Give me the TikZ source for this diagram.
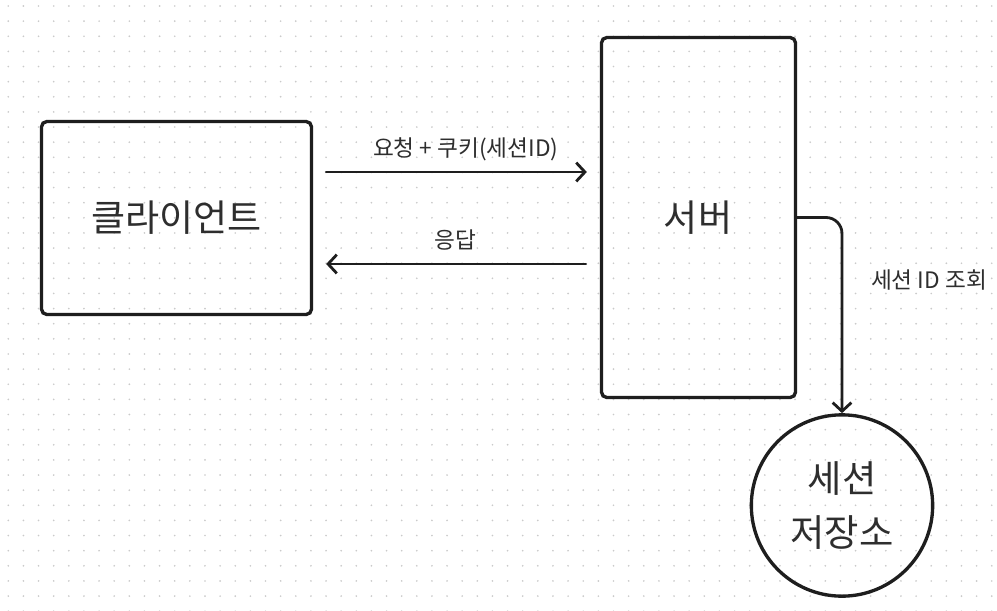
\documentclass[tikz,border=0pt]{standalone}
\usepackage{fontspec}
\setmainfont{Noto Sans CJK KR}
\usetikzlibrary{arrows.meta,calc}
\definecolor{ink}{HTML}{1E1E1E}
\definecolor{txt}{HTML}{2E2E2E}
\definecolor{dotc}{HTML}{CACACA}
\tikzset{
  box/.style={draw=ink, line width=2.5pt, rounded corners=4pt, fill=none, inner sep=0pt},
  store/.style={draw=ink, line width=2.5pt, circle, inner sep=0pt, minimum size=136pt, align=center, text=txt, font=\fontsize{28}{40}\selectfont},
  big/.style={text=txt, font=\fontsize{27.8}{32}\selectfont, inner sep=0pt},
  lbl/.style={text=txt, font=\fontsize{17}{20}\selectfont, inner sep=0pt},
  arr/.style={draw=ink, line width=2.1pt, line cap=round, -{Straight Barb[length=6.5pt,width=14pt,line width=2.1pt]}},
}
\begin{document}
\begin{tikzpicture}[x=0.75pt,y=-0.75pt]
\useasboundingbox (0,0) rectangle (997,611);
\fill[white] (0,0) rectangle (997,611);
% dot grid
\foreach \i in {0,...,65}{
  \foreach \j in {0,...,40}{
    \fill[dotc] (8.3+15.13*\i, 6+15.13*\j) circle (0.7pt);
  }
}
% nodes
\node[box, minimum width=202.5pt, minimum height=144.75pt] (client) at (176.5,218) {};
\node[box, minimum width=145.5pt, minimum height=270pt] (server) at (698.5,217.5) {};
\node[store] (sstore) at (842,505.5) {세션\\저장소};
\node[big] (clientt) at (176.5,218) {클라이언트};
\node[big] (servert) at (698,218) {서버};
% connectors
\draw[arr] ($(client.east)+(13,-46)$) -- ($(server.west)+(-13,-45.5)$);
\draw[arr] ($(server.west)+(-14,46.5)$) -- ($(client.east)+(13,46)$);
\draw[arr, rounded corners=12pt] (server.east) -| (sstore.north);
% labels
\node[lbl] (l1) at (465.8,149) {요청 + 쿠키(세션ID)};
\node[lbl] (l2) at (455.3,240) {응답};
\node[lbl] (l3) at (929,280.5) {세션 ID 조회};
\end{tikzpicture}
\end{document}
